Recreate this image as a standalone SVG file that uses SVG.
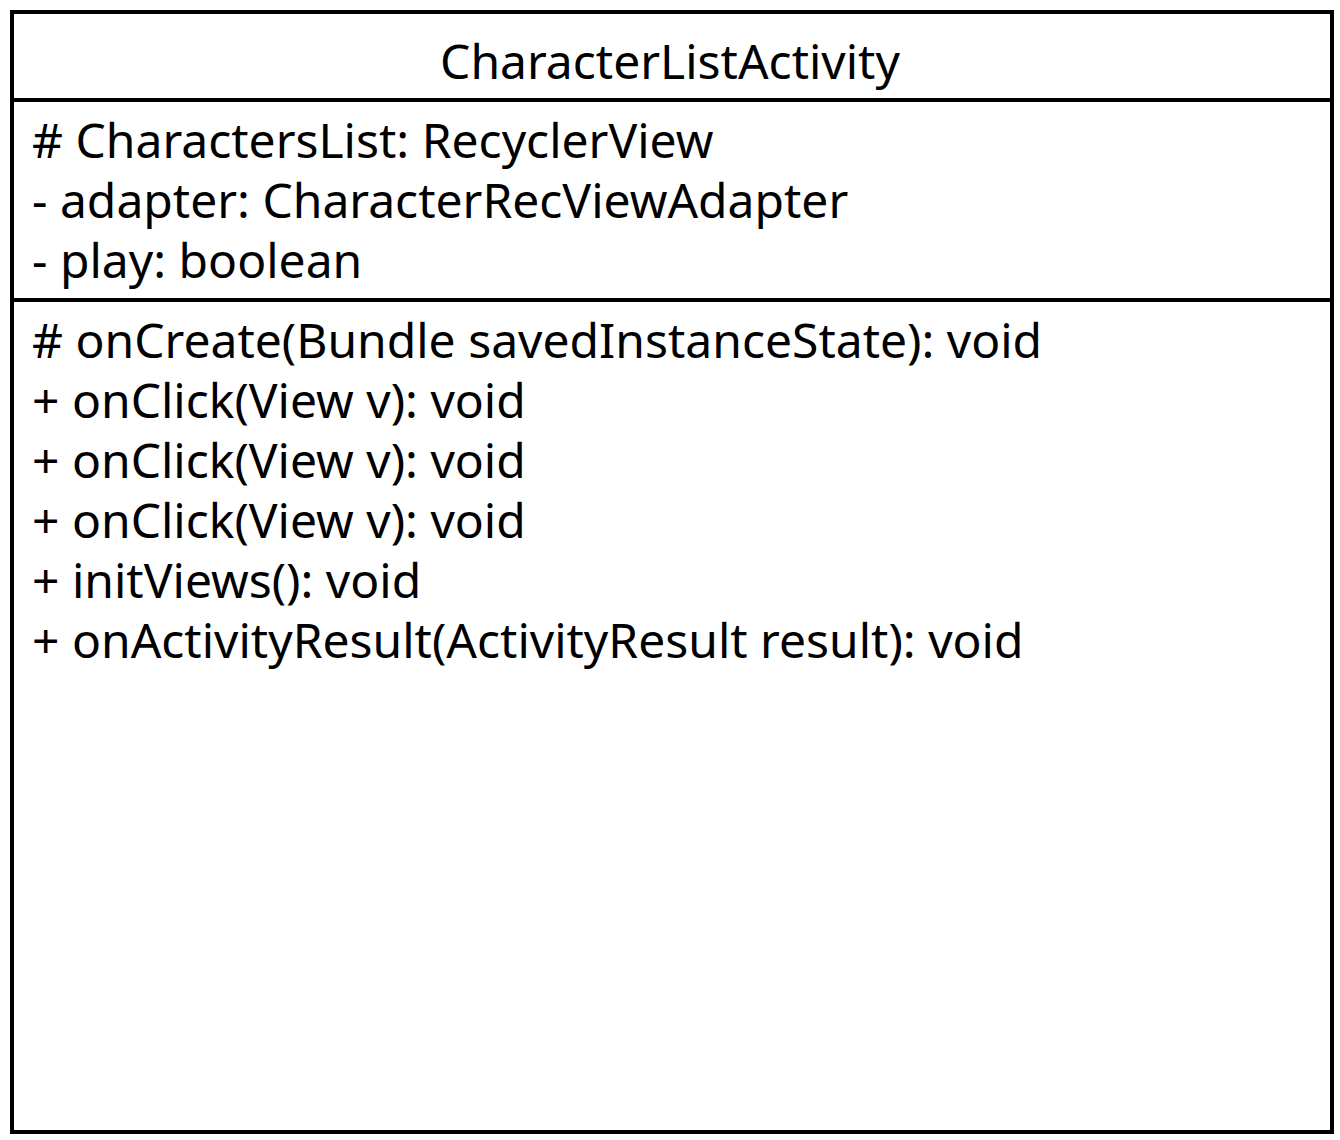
<svg xmlns="http://www.w3.org/2000/svg" width="1340" height="1140" viewBox="0 0 1340 1140">
<style>
.t{font-family:"Noto Sans","Open Sans",sans-serif;font-size:48px;fill:#000}
.l{stroke:#000;stroke-width:4;fill:none}
</style>
<rect width="1340" height="1140" fill="#fff"/>
<g id="CharacterListActivity">
<rect class="l" x="12" y="12" width="1320" height="1120" fill="#fff"/>
<line class="l" x1="12" y1="100" x2="1332" y2="100"/>
<line class="l" x1="12" y1="300" x2="1332" y2="300"/>
<text class="t" x="670" y="79" text-anchor="middle">CharacterListActivity</text>
<text class="t" x="32" y="158"># CharactersList: RecyclerView</text>
<text class="t" x="32" y="218">- adapter: CharacterRecViewAdapter</text>
<text class="t" x="32" y="278">- play: boolean</text>
<text class="t" x="32" y="358"># onCreate(Bundle savedInstanceState): void</text>
<text class="t" x="32" y="418">+ onClick(View v): void</text>
<text class="t" x="32" y="478">+ onClick(View v): void</text>
<text class="t" x="32" y="538">+ onClick(View v): void</text>
<text class="t" x="32" y="598">+ initViews(): void</text>
<text class="t" x="32" y="658">+ onActivityResult(ActivityResult result): void</text>
</g>
<g id="connectors"/>
</svg>
